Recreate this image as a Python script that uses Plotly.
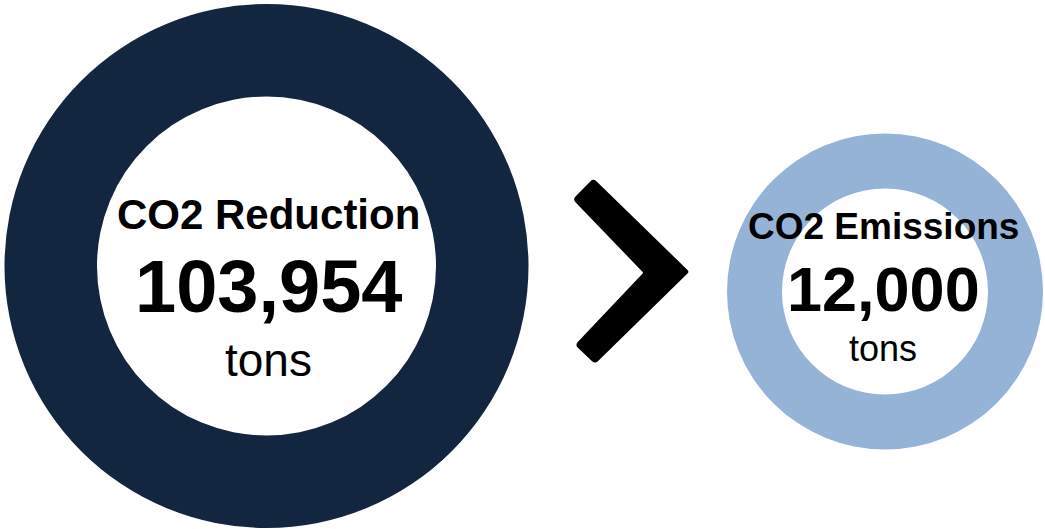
import plotly.graph_objects as go

# ---- data ----
metrics = ["CO2 Reduction", "CO2 Emissions"]
values = [103954, 12000]
units = ["tons", "tons"]
colors = ["#12263F", "#95B3D7"]

W, H = 1045, 529

# layout geometry (pixels from top-left)
centers = [(266.5, 266.0), (885.0, 291.5)]
radii = [262.0, 158.0]
holes = [0.647, 0.652]
# (title size, value size, unit size) and baselines (px from top)
sizes = [(42, 74, 46), (37, 63, 36)]
baselines = [(229, 312, 376), (239, 311, 361)]
text_x = [268.5, 883.0]

FONT = "Liberation Sans, Arial, sans-serif"

fig = go.Figure()

for i in range(len(metrics)):
    cx, cy = centers[i]
    r = radii[i]
    fig.add_trace(go.Pie(
        values=[values[i]],
        labels=[metrics[i]],
        hole=holes[i],
        sort=False,
        textinfo="none",
        hoverinfo="skip",
        showlegend=False,
        marker=dict(colors=[colors[i]], line=dict(width=0)),
        domain=dict(x=[(cx - r) / W, (cx + r) / W],
                    y=[(H - cy - r) / H, (H - cy + r) / H]),
    ))

annotations = []
for i in range(len(metrics)):
    texts = [metrics[i], f"{values[i]:,}", units[i]]
    bolds = [True, True, False]
    for t, s, b, bold in zip(texts, sizes[i], baselines[i], bolds):
        ymid = b - 0.3465 * s
        annotations.append(dict(
            x=text_x[i], y=ymid, xref="x", yref="y",
            text=f"<b>{t}</b>" if bold else t,
            showarrow=False, xanchor="center", yanchor="middle",
            font=dict(family=FONT, size=s, color="#000000"),
            borderpad=0,
        ))

# chevron ">" with slightly rounded corners
chev = [(593.3, 178.3), (689.3, 271.7), (595.0, 364.0),
        (575.0, 345.0), (643.3, 272.7), (572.7, 199.3)]
rad = [4.0, 2.5, 4.0, 4.0, 1.0, 4.0]


def rounded_path(pts, rads):
    n = len(pts)
    segs = []
    for k in range(n):
        px, py = pts[k - 1]
        cx_, cy_ = pts[k]
        nx, ny = pts[(k + 1) % n]
        d1 = ((cx_ - px) ** 2 + (cy_ - py) ** 2) ** 0.5
        d2 = ((nx - cx_) ** 2 + (ny - cy_) ** 2) ** 0.5
        a = (cx_ + (px - cx_) * rads[k] / d1, cy_ + (py - cy_) * rads[k] / d1)
        b = (cx_ + (nx - cx_) * rads[k] / d2, cy_ + (ny - cy_) * rads[k] / d2)
        segs.append((a, (cx_, cy_), b))
    p = f"M {segs[0][0][0]:.2f},{segs[0][0][1]:.2f} "
    for k, (a, c, b) in enumerate(segs):
        if k > 0:
            p += f"L {a[0]:.2f},{a[1]:.2f} "
        p += f"Q {c[0]:.2f},{c[1]:.2f} {b[0]:.2f},{b[1]:.2f} "
    p += "Z"
    return p


fig.add_shape(type="path", path=rounded_path(chev, rad), xref="x", yref="y",
              fillcolor="#000000", line=dict(width=0), layer="above")

fig.update_layout(
    width=W, height=H,
    margin=dict(l=0, r=0, t=0, b=0),
    paper_bgcolor="#FFFFFF", plot_bgcolor="rgba(0,0,0,0)",
    xaxis=dict(range=[0, W], visible=False, fixedrange=True),
    yaxis=dict(range=[H, 0], visible=False, fixedrange=True),
    annotations=annotations,
    showlegend=False,
)

fig.write_html("out.html", config={"displayModeBar": False})
